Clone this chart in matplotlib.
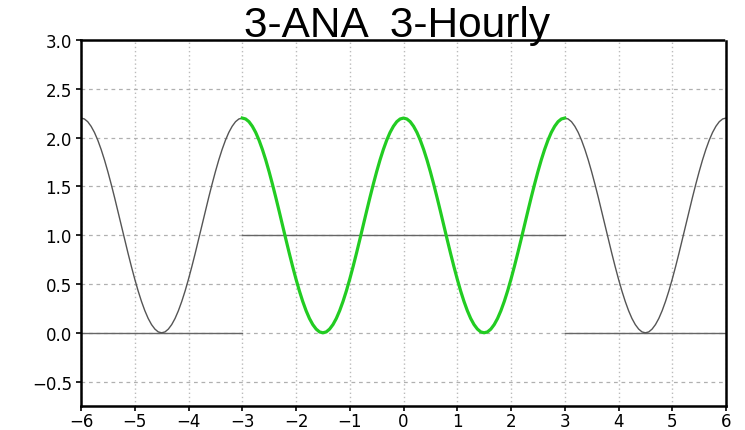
import numpy as np
import matplotlib.pyplot as plt

# half a period of the curve (peak -> trough), sampled every 0.0625 in x
half_period = [2.200, 2.191, 2.163, 2.116, 2.053, 1.973, 1.878, 1.770, 1.650,
               1.521, 1.385, 1.244, 1.100, 0.956, 0.815, 0.679, 0.550, 0.430,
               0.322, 0.227, 0.147, 0.084, 0.038, 0.009, 0.000]
one_period = half_period[:-1] + half_period[::-1][:-1]
curve_y = np.array(one_period * 4 + [2.200])
curve_x = np.linspace(-6, 6, len(curve_y))

# window (step) segments
win_x = [[-6, -3], [-3, 3], [3, 6]]
win_y = [[0, 0], [1, 1], [0, 0]]

xticks = list(range(-6, 7))
yticks = [-0.5, 0.0, 0.5, 1.0, 1.5, 2.0, 2.5, 3.0]

fig = plt.figure(figsize=(7.45, 4.31), dpi=100)
ax = fig.add_axes([81 / 745, 1 - 407 / 431, 645 / 745, 366 / 431])

ax.xaxis.grid(True, color='#bbbbbb', linestyle=(0, (1, 2)), linewidth=1.0)
ax.yaxis.grid(True, color='#b0b0b0', linestyle=(0, (3, 3)), linewidth=0.9)
ax.set_axisbelow(True)

for xs, ys in zip(win_x, win_y):
    ax.plot(xs, ys, color='#666666', linewidth=1.0)

ax.plot(curve_x, curve_y, color='#555555', linewidth=1.0)
inside = (curve_x >= -3) & (curve_x <= 3)
ax.plot(curve_x[inside], curve_y[inside], color='#22cc22', linewidth=2.3)

ax.set_xlim(-6, 6)
ax.set_ylim(-0.75, 3.0)
ax.set_xticks(xticks)
ax.set_yticks(yticks)
ax.set_yticklabels(['\u22120.5', '0.0', '0.5', '1.0', '1.5', '2.0', '2.5', '3.0'])
ax.set_xticklabels([str(t).replace('-', '\u2212') for t in xticks])
ax.tick_params(direction='out', length=3.5, width=1.2, labelsize=12)
ax.tick_params(axis='x', pad=1)
ax.tick_params(axis='y', pad=3)

for side in ['left', 'bottom']:
    ax.spines[side].set_linewidth(1.8)
for side in ['top', 'right']:
    ax.spines[side].set_linewidth(1.8)
    ax.spines[side].set_linestyle((0, (2, 1)))

fig.text(397 / 745, 1 - 37 / 431, '3-ANA  3-Hourly', ha='center', va='baseline',
         fontsize=30.5, family='Liberation Sans')

fig.savefig('out.png', dpi=100)
